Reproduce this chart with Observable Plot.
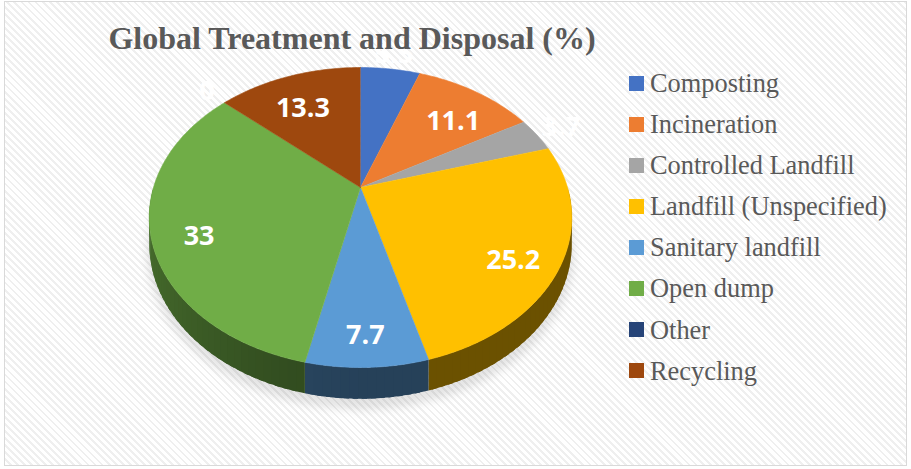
<!DOCTYPE html>
<html>
<head>
<meta charset="utf-8">
<script src="https://cdn.jsdelivr.net/npm/d3@7"></script>
<script src="https://cdn.jsdelivr.net/npm/@observablehq/plot@0.6"></script>
<style>
  html, body { margin: 0; padding: 0; background: #fff; }
  #frame {
    position: absolute; left: 4px; top: 1px; width: 903px; height: 465px;
    border: 1px solid #d9d9d9; box-sizing: border-box;
    background: repeating-linear-gradient(45deg, #ffffff 0px, #ffffff 3px, #efefef 3px, #efefef 5px);
  }
  #chart { position: absolute; left: 0; top: 0; }
  #title {
    position: absolute; left: 0; top: 20px; width: 704px; text-align: center;
    font-family: "Liberation Serif", "Times New Roman", serif; font-weight: bold;
    font-size: 32px; color: #595959; white-space: nowrap;
  }
  #legend { position: absolute; left: 629px; top: 62.6px; }
  .row { height: 41.1px; display: flex; align-items: center; }
  .sw { width: 15px; height: 15px; flex: none; }
  .lab { margin-left: 6px; font-family: "Liberation Serif", "Times New Roman", serif;
         font-size: 26.4px; line-height: 1; color: #595959; white-space: nowrap; }
</style>
</head>
<body>
<div id="frame"></div>
<div id="chart"></div>
<div id="title"></div>
<div id="legend"></div>
<script>
const titleText = "Global Treatment and Disposal (%)";
const categories = ["Composting", "Incineration", "Controlled Landfill", "Landfill (Unspecified)",
                    "Sanitary landfill", "Open dump", "Other", "Recycling"];
const values = [5.5, 11.1, 3.7, 25.2, 7.7, 33, 0, 13.3];
const colors = ["#4472c4", "#ed7d31", "#a5a5a5", "#ffc000", "#5b9bd5", "#70ad47", "#264478", "#9e480e"];

// layout constants (pixels)
const W = 911, H = 469;
const cx = 360, cy = 187, A = 207, B = 144, k = 0.2, depthPx = 25;
const dz = depthPx / B;

function proj(r, a, h) {
  const u = r * Math.sin(a), v = -r * Math.cos(a);
  const d = 1 - k * v;
  return {x: u / d, y: (v + h) / d};
}

const data = categories.map((c, i) => ({key: c, value: values[i], color: colors[i]}));
const arcs = d3.pie().sort(null).value(d => d.value)(data);

// top faces
const topPts = [];
for (const a of arcs) {
  if (a.endAngle - a.startAngle <= 0) continue;
  topPts.push({key: a.data.key, ...proj(0, 0, 0)});
  const n = Math.max(2, Math.ceil((a.endAngle - a.startAngle) / (Math.PI / 180)));
  for (let j = 0; j <= n; j++) {
    const t = a.startAngle + (a.endAngle - a.startAngle) * j / n;
    topPts.push({key: a.data.key, ...proj(1, t, 0)});
  }
}

// soft shadow under the pie
const shadowPts = [];
for (let j = 0; j <= 180; j++) {
  const t = Math.PI / 2 + Math.PI * j / 180;
  shadowPts.push(proj(1.01, t, dz + 0.045));
}
for (let j = 180; j >= 0; j--) {
  const t = Math.PI / 2 + Math.PI * j / 180;
  shadowPts.push(proj(0.9, t, 0));
}

// side strips (front half only), overlapping to avoid seams
const sideMarks = [];
const step = Math.PI / 90;
for (const a of arcs) {
  const s = Math.max(a.startAngle, Math.PI / 2), e = Math.min(a.endAngle, 3 * Math.PI / 2);
  if (e <= s) continue;
  const base = d3.rgb(a.data.color);
  const n = Math.max(1, Math.ceil((e - s) / step));
  for (let j = 0; j < n; j++) {
    const t0 = s + (e - s) * j / n;
    const t1 = Math.min(e, s + (e - s) * (j + 1) / n + step * 0.6);
    const tm = s + (e - s) * (j + 0.5) / n;
    const u = Math.sin(tm);
    const f = 0.42 + 0.2 * Math.pow(Math.max(0, -u), 1.5);
    const col = d3.rgb(base.r * f, base.g * f, base.b * f).formatHex();
    const poly = [];
    const m = 4;
    for (let q = 0; q <= m; q++) poly.push(proj(1, t0 + (t1 - t0) * q / m, 0));
    for (let q = m; q >= 0; q--) poly.push(proj(1, t0 + (t1 - t0) * q / m, dz));
    sideMarks.push(Plot.line(poly, {x: "x", y: "y", fill: col, stroke: "none"}));
  }
}

// labels
const labels = arcs.map(a => {
  const mid = (a.startAngle + a.endAngle) / 2;
  const outside = a.data.value < 6;
  const p = outside ? proj(1.15, mid, 0) : proj(0.78, mid, dz / 2);
  return {text: String(a.data.value), ...p};
});

const svg = Plot.plot({
  width: W, height: H, margin: 0,
  x: {domain: [-1, 1], range: [cx - A, cx + A], axis: null},
  y: {domain: [-1, 1], range: [cy - B, cy + B], axis: null},
  color: {domain: categories, range: colors},
  style: {background: "transparent", overflow: "visible"},
  marks: [
    Plot.line(shadowPts, {x: "x", y: "y", fill: "#000000", fillOpacity: 0.10, stroke: "none"}),
    ...sideMarks,
    Plot.line(topPts, {x: "x", y: "y", z: "key", fill: "key", stroke: "key", strokeWidth: 0.6}),
    Plot.text(labels, {x: "x", y: "y", text: "text", fill: "white", fontSize: 27, fontWeight: "bold",
                       fontFamily: "Open Sans, sans-serif"})
  ]
});
// blur the shadow mark
const ns = "http://www.w3.org/2000/svg";
const defs = document.createElementNS(ns, "defs");
const filt = document.createElementNS(ns, "filter");
filt.setAttribute("id", "pieShadow");
filt.setAttribute("x", "-20%"); filt.setAttribute("y", "-20%");
filt.setAttribute("width", "140%"); filt.setAttribute("height", "140%");
const blur = document.createElementNS(ns, "feGaussianBlur");
blur.setAttribute("stdDeviation", "4");
filt.appendChild(blur); defs.appendChild(filt);
svg.insertBefore(defs, svg.firstChild);
const firstMark = svg.querySelector('g[aria-label="line"]');
if (firstMark) firstMark.setAttribute("filter", "url(#pieShadow)");

document.getElementById("chart").appendChild(svg);
document.getElementById("title").textContent = titleText;

const leg = document.getElementById("legend");
categories.forEach((c, i) => {
  const row = document.createElement("div"); row.className = "row";
  const sw = document.createElement("div"); sw.className = "sw"; sw.style.background = colors[i];
  const lab = document.createElement("div"); lab.className = "lab"; lab.textContent = c;
  row.appendChild(sw); row.appendChild(lab); leg.appendChild(row);
});
</script>
</body>
</html>
